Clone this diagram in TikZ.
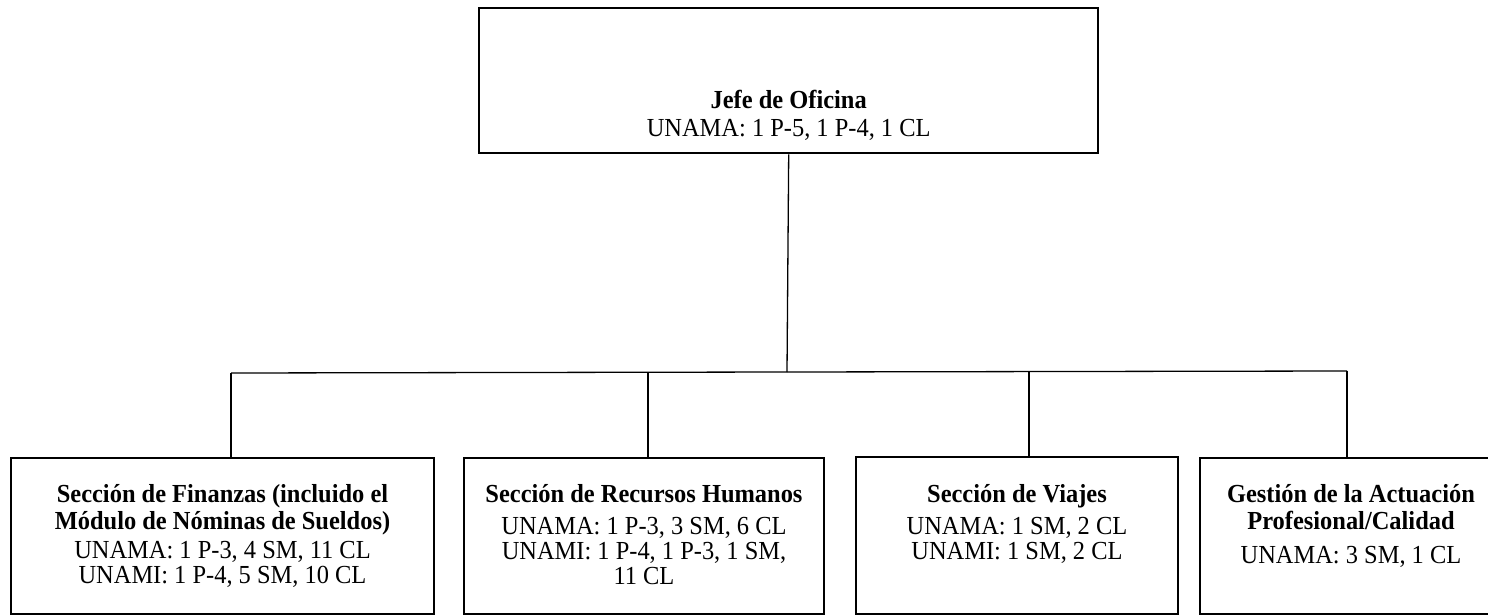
\documentclass[tikz,border=0pt]{standalone}
\usepackage{fontspec}
\setmainfont{Liberation Serif}[FakeStretch=0.94]
\usetikzlibrary{calc}
\begin{document}
\begin{tikzpicture}[x=1pt,y=-1pt,
  box/.style={draw=black,line width=2pt,anchor=north west,inner sep=0pt},
  txt/.style={anchor=north,align=center,inner sep=0pt,font=\fontsize{26}{25}\selectfont},
  conn/.style={draw=black,line width=1.3pt}]
\useasboundingbox[fill=white] (0,0) rectangle (1488,615);
% boxes
\node[box,line width=2.4pt,minimum width=619pt,minimum height=145pt] (top) at (478,7) {};
\node[box,minimum width=423pt,minimum height=156pt] (b1) at (10,457) {};
\node[box,minimum width=360pt,minimum height=156pt] (b2) at (463,457) {};
\node[box,minimum width=322pt,minimum height=157pt] (b3) at (855,456) {};
\node[box,minimum width=302pt,minimum height=156pt] (b4) at (1199,457) {};
% texts
\node[txt] (ttop) at ($(top.north)+(0,83)$) {\textbf{Jefe de Oficina}\\[3pt]UNAMA: 1 P-5, 1 P-4, 1 CL};
\node[txt] (t1) at ($(b1.north)+(0,27)$) {\textbf{Sección de Finanzas (incluido el}\\[2pt]\textbf{Módulo de Nóminas de Sueldos)}\\[4pt]UNAMA: 1 P-3, 4 SM, 11 CL\\UNAMI: 1 P-4, 5 SM, 10 CL};
\node[txt] (t2) at ($(b2.north)+(0,27)$) {\textbf{Sección de Recursos Humanos}\\[7pt]UNAMA: 1 P-3, 3 SM, 6 CL\\UNAMI: 1 P-4, 1 P-3, 1 SM,\\11 CL};
\node[txt] (t3) at ($(b3.north)+(0,28)$) {\textbf{Sección de Viajes}\\[7pt]UNAMA: 1 SM, 2 CL\\UNAMI: 1 SM, 2 CL};
\node[txt] (t4) at ($(b4.north)+(0,27)$) {\textbf{Gestión de la Actuación}\\[2pt]\textbf{Profesional/Calidad}\\[9pt]UNAMA: 3 SM, 1 CL};
% connectors
\coordinate (jc) at (787,372);
\coordinate (h1) at (231,373);
\coordinate (h2) at (648,372.5);
\coordinate (h3) at (1029,371.5);
\coordinate (h4) at (1347,371);
\draw[conn] (top.south) -- (jc);
\draw[conn] (h1) -- (h4);
\draw[conn] (h1) -- (h1 |- b1.north);
\draw[conn] (h2) -- (h2 |- b2.north);
\draw[conn] (h3) -- (h3 |- b3.north);
\draw[conn] (h4) -- (h4 |- b4.north);
\end{tikzpicture}
\end{document}
